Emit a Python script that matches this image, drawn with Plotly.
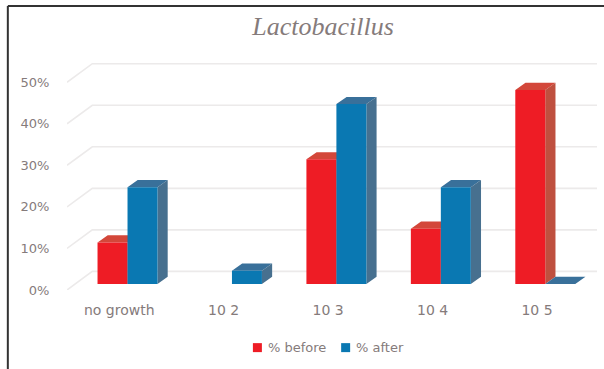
import plotly.graph_objects as go

categories = ["no growth", "10 2", "10 3", "10 4", "10 5"]
before = [10, None, 30, 13.3, 46.7]
after = [23.3, 3.2, 43.3, 23.3, 0]
y_ticks = [0, 10, 20, 30, 40, 50]
y_labels = ["0%", "10%", "20%", "30%", "40%", "50%"]
series_names = ["% before", "% after"]

W, H = 604, 369
# plot area in pixels
LEFT, RIGHT = 66.7, 604.0
Y0, TOP = 290.3, 55.0
PX_X = 104.5          # px per category
PX_Y = 4.16           # px per percent
xr = [-0.5, -0.5 + (RIGHT - LEFT) / PX_X]
yr = [0, (Y0 - TOP) / PX_Y]

# pseudo-3D geometry, in data units
WALL_X, WALL_Y = 25.3 / PX_X, 18.6 / PX_Y
GRID_END = -0.5 + (597 - LEFT) / PX_X
SHIFT_X, BASE = 8.3 / PX_X, 6.0 / PX_Y
BAR_W = 30 / PX_X
DEP_X, DEP_Y = 10.2 / PX_X, 7.2 / PX_Y

RED, RED_TOP, RED_SIDE = "#ee1c25", "#d3473a", "#bf503f"
BLUE, BLUE_TOP, BLUE_SIDE = "#0a78b2", "#39709a", "#47708f"
TXT = "#857b7b"


def faces(values, left_off):
    tx, ty, sx, sy = [], [], [], []
    for i, v in enumerate(values):
        if v is None:
            continue
        x0 = i + SHIFT_X + left_off
        x1 = x0 + BAR_W
        t = BASE + v
        tx += [x0, x0 + DEP_X, x1 + DEP_X, x1, x0, None]
        ty += [t, t + DEP_Y, t + DEP_Y, t, t, None]
        sx += [x1, x1 + DEP_X, x1 + DEP_X, x1, x1, None]
        sy += [BASE, BASE + DEP_Y, t + DEP_Y, t, BASE, None]
    return tx, ty, sx, sy


def poly(x, y, color):
    return go.Scatter(x=x, y=y, mode="lines", fill="toself", fillcolor=color,
                      line=dict(width=0, color=color), showlegend=False, hoverinfo="skip")


fig = go.Figure()

gx, gy = [], []
for t in y_ticks:
    gx += [-0.5, -0.5 + WALL_X, GRID_END, None]
    gy += [t, t + WALL_Y, t + WALL_Y, None]
fig.add_trace(go.Scatter(x=gx, y=gy, mode="lines", line=dict(color="#eceaea", width=1.6),
                         showlegend=False, hoverinfo="skip"))

rtx, rty, rsx, rsy = faces(before, -BAR_W)
btx, bty, bsx, bsy = faces(after, 0)
fig.add_trace(poly(rtx, rty, RED_TOP))
fig.add_trace(poly(rsx, rsy, RED_SIDE))
fig.add_trace(poly(btx, bty, BLUE_TOP))
fig.add_trace(poly(bsx, bsy, BLUE_SIDE))

xs = list(range(len(categories)))
fig.add_trace(go.Bar(x=xs, y=before, base=BASE, width=BAR_W, offset=SHIFT_X - BAR_W,
                     marker=dict(color=RED, line=dict(width=0)), name=series_names[0],
                     showlegend=False, xaxis="x2", yaxis="y2"))
fig.add_trace(go.Bar(x=xs, y=after, base=BASE, width=BAR_W, offset=SHIFT_X,
                     marker=dict(color=BLUE, line=dict(width=0)), name=series_names[1],
                     showlegend=False, xaxis="x2", yaxis="y2"))


def px(x):
    return (x - LEFT) / (RIGHT - LEFT)


def py(y):
    return (Y0 - y) / (Y0 - TOP)


def swatch(x0, x1, color):
    return dict(type="rect", xref="paper", yref="paper", x0=px(x0), x1=px(x1), y0=py(352.5), y1=py(343.5),
                fillcolor=color, line=dict(width=0))


def key(x, text):
    return dict(xref="paper", yref="paper", x=px(x), y=py(348), text=text, showarrow=False,
                xanchor="left", yanchor="middle", xshift=0, font=dict(size=13, color=TXT))


frame = dict(color="#333333", width=2)
fig.update_layout(
    width=W, height=H, autosize=False,
    margin=dict(l=LEFT, r=W - RIGHT, t=TOP, b=H - Y0, pad=0),
    paper_bgcolor="white", plot_bgcolor="rgba(0,0,0,0)",
    barmode="overlay", showlegend=False,
    font=dict(family="DejaVu Sans", size=13, color=TXT),
    title=dict(text="<i>Lactobacillus</i>", x=323 / W, xanchor="center", y=1 - 26 / H, yanchor="middle",
               font=dict(family="Liberation Serif", size=26, color="#857b7b")),
    xaxis=dict(range=xr, tickmode="array", tickvals=xs, ticktext=categories, ticks="outside",
               ticklen=7, tickcolor="rgba(0,0,0,0)", showgrid=False, zeroline=False, showline=False,
               tickfont=dict(size=14, color=TXT)),
    yaxis=dict(range=yr, tickmode="array", tickvals=y_ticks, ticktext=y_labels, ticks="outside",
               ticklen=14, tickcolor="rgba(0,0,0,0)", showgrid=False, zeroline=False, showline=False,
               tickfont=dict(size=13, color=TXT)),
    xaxis2=dict(range=xr, overlaying="x", visible=False, anchor="y2"),
    yaxis2=dict(range=yr, overlaying="y", visible=False, anchor="x2"),
    annotations=[key(266, series_names[0]), key(354, series_names[1])],
    shapes=[
        dict(type="line", xref="paper", yref="paper", x0=px(7.5), x1=px(604), y0=py(6), y1=py(6), line=frame),
        dict(type="line", xref="paper", yref="paper", x0=px(7.5), x1=px(7.5), y0=py(6), y1=py(380), line=frame),
        swatch(252.7, 261.7, RED),
        swatch(341, 350, BLUE),
    ],
)
fig.write_html("out.html", config=dict(displayModeBar=False),
               post_script="document.body.style.margin='0';document.body.style.overflow='hidden';")
